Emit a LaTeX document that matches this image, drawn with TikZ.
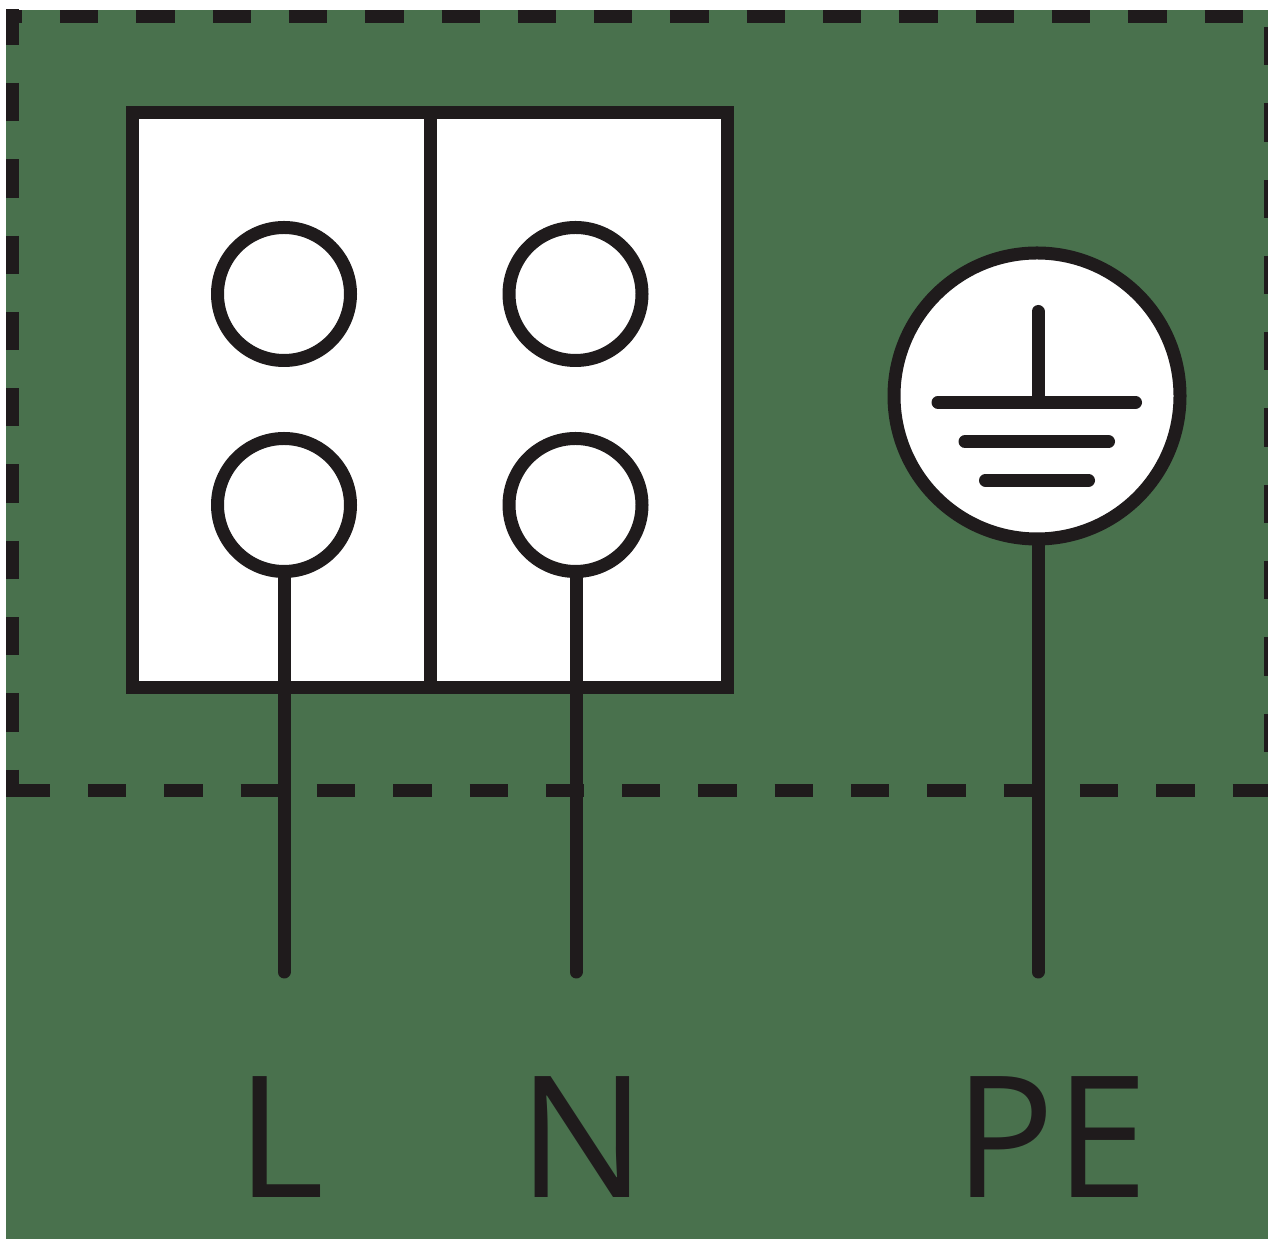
\documentclass[tikz,border=0pt]{standalone}
\usepackage{fontspec}
\setmainfont{Open Sans}
\definecolor{boardgreen}{HTML}{49714D}
\definecolor{inkblack}{HTML}{1F1B1C}
\tikzset{
  wire/.style={draw=inkblack,line width=13bp},
  lead/.style={wire,line cap=round},
  border/.style={wire,dash pattern=on 38.3bp off 38bp},
  terminal/.style={circle,draw=inkblack,line width=13bp,fill=white,inner sep=0pt,outer sep=0pt,minimum size=133bp},
  tag/.style={text=inkblack,font=\fontsize{170}{170}\selectfont,inner sep=0pt,anchor=base},
}
\begin{document}
\begin{tikzpicture}[line join=miter]
\useasboundingbox (0bp,0bp) rectangle (1268bp,1239bp);
\clip (6bp,0bp) rectangle (1268bp,1229bp);
\fill [boardgreen] (6bp,0bp) rectangle (1268bp,1229bp);
%% dashed outline
\coordinate (top_a) at (-16.3bp,1222.5bp);
\coordinate (top_b) at (1268bp,1222.5bp);
\coordinate (left_a) at (12.5bp,1232.3bp);
\coordinate (left_b) at (12.5bp,442bp);
\coordinate (low_a) at (11.7bp,448.5bp);
\coordinate (low_b) at (1268bp,448.5bp);
\coordinate (right_a) at (1270bp,1212bp);
\coordinate (right_b) at (1270bp,487bp);
\draw [border] (top_a) -- (top_b);
\draw [border] (left_a) -- (left_b);
\draw [border] (low_a) -- (low_b);
\draw [border] (right_a) -- (right_b);
%% terminal block
\node (block) at (430bp,839bp) [draw=inkblack,line width=13bp,fill=white,outer sep=0pt,inner sep=0pt,minimum width=595bp,minimum height=575bp] {};
\draw [wire] (block.north) -- (block.south);
\node (term_l1) at (284bp,945bp) [terminal] {};
\node (term_n1) at (575.5bp,945bp) [terminal] {};
\node (term_l2) at (284bp,734bp) [terminal] {};
\node (term_n2) at (575.5bp,734bp) [terminal] {};
%% earth symbol
\node (earth) at (1037bp,843bp) [circle,draw=inkblack,line width=13bp,fill=white,inner sep=0pt,outer sep=0pt,minimum size=286bp] {};
\coordinate (stem_a) at (1038bp,927.5bp);
\coordinate (stem_b) at (1038bp,837bp);
\coordinate (bar1_a) at (938bp,836.7bp);
\coordinate (bar1_b) at (1135.5bp,836.7bp);
\coordinate (bar2_a) at (965bp,797.3bp);
\coordinate (bar2_b) at (1108.5bp,797.3bp);
\coordinate (bar3_a) at (985.5bp,758.7bp);
\coordinate (bar3_b) at (1088.5bp,758.7bp);
\draw [lead] (stem_a) -- (stem_b);
\draw [lead] (bar1_a) -- (bar1_b);
\draw [lead] (bar2_a) -- (bar2_b);
\draw [lead] (bar3_a) -- (bar3_b);
%% leads
\coordinate (end_l) at (284bp,267bp);
\coordinate (end_n) at (576bp,267bp);
\coordinate (end_pe) at (1038bp,267bp);
\draw [wire] (term_l2.south) -- (end_l);
\draw [lead] (end_l) -- ++(0bp,10bp);
\draw [wire] (term_n2.south -| end_n) -- (end_n);
\draw [lead] (end_n) -- ++(0bp,10bp);
\draw [wire] (earth.south -| end_pe) -- (end_pe);
\draw [lead] (end_pe) -- ++(0bp,10bp);
%% labels
\node (tag_l) at (280bp,41bp) [tag] {L};
\node (tag_n) at (582bp,41bp) [tag] {N};
\node (tag_pe) at (1051.5bp,41bp) [tag,xscale=.985] {PE};
\end{tikzpicture}
\end{document}
